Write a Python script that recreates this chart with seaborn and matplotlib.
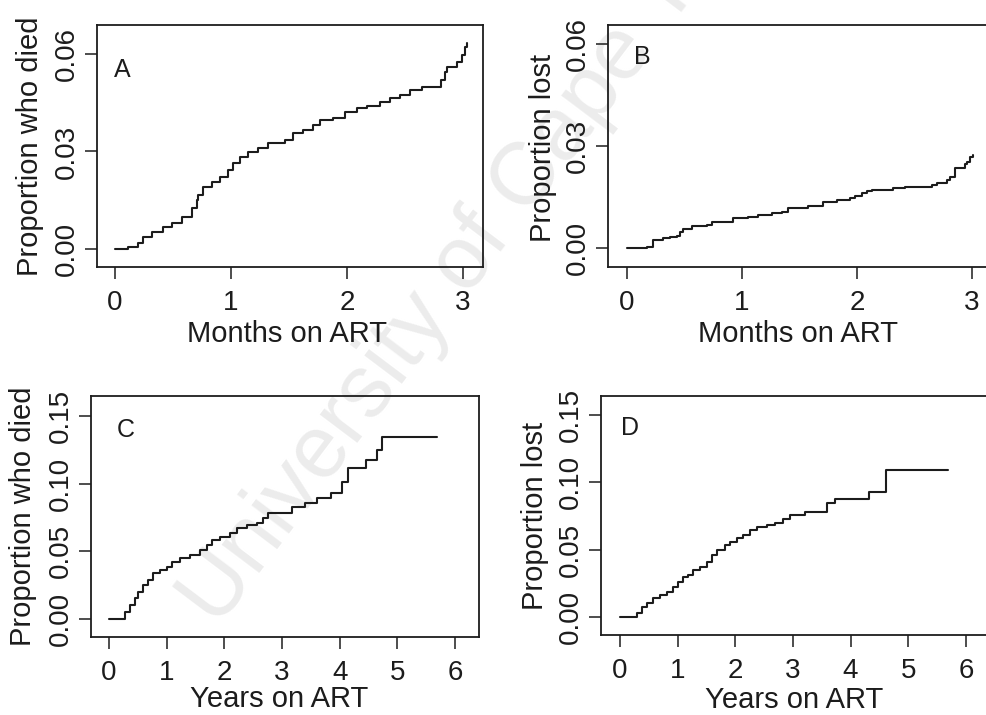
import numpy as np
import pandas as pd
import matplotlib
matplotlib.use("Agg")
import matplotlib.pyplot as plt
import seaborn as sns

# ---------------- data ----------------
# Panel A: proportion who died, months on ART
a_x = [0, 0.112, 0.198, 0.241, 0.319, 0.414, 0.491, 0.578, 0.664, 0.707, 0.716, 0.759,
       0.836, 0.905, 0.974, 1.017, 1.078, 1.147, 1.233, 1.319, 1.466, 1.534, 1.621, 1.707,
       1.767, 1.879, 1.983, 2.086, 2.172, 2.284, 2.371, 2.457, 2.543, 2.647, 2.810, 2.840,
       2.862, 2.948, 2.991, 3.017, 3.034]
a_y = [0, 0.0006, 0.0018, 0.0037, 0.0052, 0.0068, 0.0080, 0.0098, 0.0126, 0.0151, 0.0166, 0.0191,
       0.0206, 0.0222, 0.0243, 0.0265, 0.0283, 0.0298, 0.0311, 0.0326, 0.0335, 0.0357, 0.0366, 0.0382,
       0.0397, 0.0403, 0.0422, 0.0434, 0.0440, 0.0452, 0.0465, 0.0474, 0.0489, 0.0498, 0.0520, 0.0545,
       0.0560, 0.0575, 0.0597, 0.0622, 0.0634]

# Panel B: proportion lost, months on ART
b_x = [0, 0.174, 0.226, 0.313, 0.374, 0.435, 0.461, 0.487, 0.565, 0.696, 0.739, 0.922, 1.052,
       1.139, 1.261, 1.348, 1.400, 1.574, 1.704, 1.826, 1.939, 1.983, 2.043, 2.087, 2.130,
       2.313, 2.417, 2.652, 2.696, 2.783, 2.809, 2.852, 2.940, 2.957, 2.983, 3.009]
b_y = [0, 0.0003, 0.0024, 0.0029, 0.0032, 0.0035, 0.0047, 0.0056, 0.0065, 0.0068, 0.0076, 0.0088, 0.0091,
       0.0097, 0.0103, 0.0106, 0.0118, 0.0124, 0.0135, 0.0141, 0.0147, 0.0153, 0.0162, 0.0168, 0.0171,
       0.0176, 0.0179, 0.0185, 0.0191, 0.0200, 0.0209, 0.0235, 0.0247, 0.0253, 0.0268, 0.0274]

# Panel C: proportion who died, years on ART
c_x = [0, 0.270, 0.364, 0.451, 0.503, 0.590, 0.676, 0.763, 0.884, 1.006, 1.092, 1.231, 1.405,
       1.578, 1.699, 1.786, 1.925, 2.098, 2.219, 2.393, 2.566, 2.670, 2.757, 3.173, 3.399,
       3.607, 3.849, 4.040, 4.144, 4.456, 4.647, 4.734, 5.688]
c_y = [0, 0.0052, 0.0103, 0.0155, 0.0200, 0.0251, 0.0288, 0.0340, 0.0362, 0.0384, 0.0421, 0.0451, 0.0473,
       0.0510, 0.0547, 0.0584, 0.0606, 0.0636, 0.0673, 0.0695, 0.0710, 0.0746, 0.0783, 0.0828, 0.0857,
       0.0894, 0.0931, 0.1013, 0.1116, 0.1175, 0.1249, 0.1345, 0.1345]

# Panel D: proportion lost, years on ART
d_x = [0, 0.295, 0.381, 0.468, 0.572, 0.694, 0.815, 0.919, 1.006, 1.092, 1.179, 1.266, 1.387,
       1.509, 1.595, 1.682, 1.821, 1.907, 2.029, 2.133, 2.254, 2.376, 2.549, 2.688, 2.826,
       2.948, 3.208, 3.589, 3.728, 4.318, 4.612, 5.688]
d_y = [0, 0.0030, 0.0074, 0.0104, 0.0141, 0.0163, 0.0186, 0.0223, 0.0260, 0.0297, 0.0312, 0.0349, 0.0371,
       0.0408, 0.0460, 0.0497, 0.0535, 0.0557, 0.0586, 0.0609, 0.0646, 0.0668, 0.0683, 0.0698, 0.0728,
       0.0757, 0.0780, 0.0846, 0.0876, 0.0928, 0.1091, 0.1091]

panel_letters = ["A", "B", "C", "D"]
y_labels = ["Proportion who died", "Proportion lost", "Proportion who died", "Proportion lost"]
x_labels = ["Months on ART", "Months on ART", "Years on ART", "Years on ART"]
month_ticks = [0, 1, 2, 3]
year_ticks = [0, 1, 2, 3, 4, 5, 6]
month_yticks = [0.00, 0.03, 0.06]
month_yticklabels = ["0.00", "0.03", "0.06"]
year_yticks = [0.00, 0.05, 0.10, 0.15]
year_yticklabels = ["0.00", "0.05", "0.10", "0.15"]

# ---------------- style ----------------
sns.set_style("ticks")
plt.rcParams["font.family"] = ["Liberation Sans", "DejaVu Sans"]
ink = "#1c1c1c"

fig = plt.figure(figsize=(9.86, 7.15), dpi=100)
fig.patch.set_facecolor("white")

# watermark (behind everything)
fig.text(0.513, 0.655, "University of Cape Town", rotation=53, rotation_mode="anchor",
         ha="center", va="baseline", fontsize=64, color="#ececec", zorder=-5)

specs = [
    dict(x=a_x, y=a_y, rect=[0.0984, 0.6266, 0.3915, 0.3385], xlim=(-0.155, 3.172), ylim=(-0.0055, 0.0689),
         xt=month_ticks, yt=month_yticks, ytl=month_yticklabels, ylc=(-0.174, 0.50), xlc=(0.492, -0.275),
         let=(0.044, 0.814)),
    dict(x=b_x, y=b_y, rect=[0.6166, 0.6266, 0.3895, 0.3385], xlim=(-0.165, 3.174), ylim=(-0.0056, 0.0656),
         xt=month_ticks, yt=month_yticks, ytl=month_yticklabels, ylc=(-0.170, 0.49), xlc=(0.496, -0.275),
         let=(0.068, 0.868)),
    dict(x=c_x, y=c_y, rect=[0.0923, 0.1091, 0.3935, 0.3371], xlim=(-0.312, 6.416), ylim=(-0.0133, 0.1648),
         xt=year_ticks, yt=year_yticks, ytl=year_yticklabels, ylc=(-0.175, 0.502), xlc=(0.485, -0.258),
         let=(0.067, 0.859)),
    dict(x=d_x, y=d_y, rect=[0.6095, 0.1119, 0.3945, 0.3343], xlim=(-0.329, 6.416), ylim=(-0.0134, 0.164),
         xt=year_ticks, yt=year_yticks, ytl=year_yticklabels, ylc=(-0.169, 0.498), xlc=(0.496, -0.272),
         let=(0.052, 0.866)),
]

for i, s in enumerate(specs):
    ax = fig.add_axes(s["rect"])
    ax.set_facecolor("none")
    df = pd.DataFrame({"t": s["x"], "p": s["y"]})
    sns.lineplot(data=df, x="t", y="p", ax=ax, drawstyle="steps-post", color=ink,
                 linewidth=1.5, estimator=None, sort=False)
    ax.set_xlim(*s["xlim"])
    ax.set_ylim(*s["ylim"])
    ax.set_xticks(s["xt"])
    ax.set_xticklabels([str(v) for v in s["xt"]])
    ax.set_yticks(s["yt"])
    ax.set_yticklabels(s["ytl"], rotation=90, va="center")
    ax.tick_params(axis="both", direction="out", length=8.6, width=1.1, color=ink,
                   labelsize=20, labelcolor=ink)
    ax.tick_params(axis="x", pad=8)
    ax.tick_params(axis="y", pad=4)
    for sp in ax.spines.values():
        sp.set_visible(True)
        sp.set_linewidth(1.3)
        sp.set_color(ink)
    ax.set_ylabel(y_labels[i], fontsize=21, color=ink, va="center")
    ax.yaxis.set_label_coords(*s["ylc"])
    ax.set_xlabel(x_labels[i], fontsize=21, color=ink, va="center")
    ax.xaxis.set_label_coords(*s["xlc"])
    ax.text(s["let"][0], s["let"][1], panel_letters[i], transform=ax.transAxes,
            fontsize=18, color=ink, ha="left", va="center")

fig.savefig("out.png", dpi=100, facecolor="white")
